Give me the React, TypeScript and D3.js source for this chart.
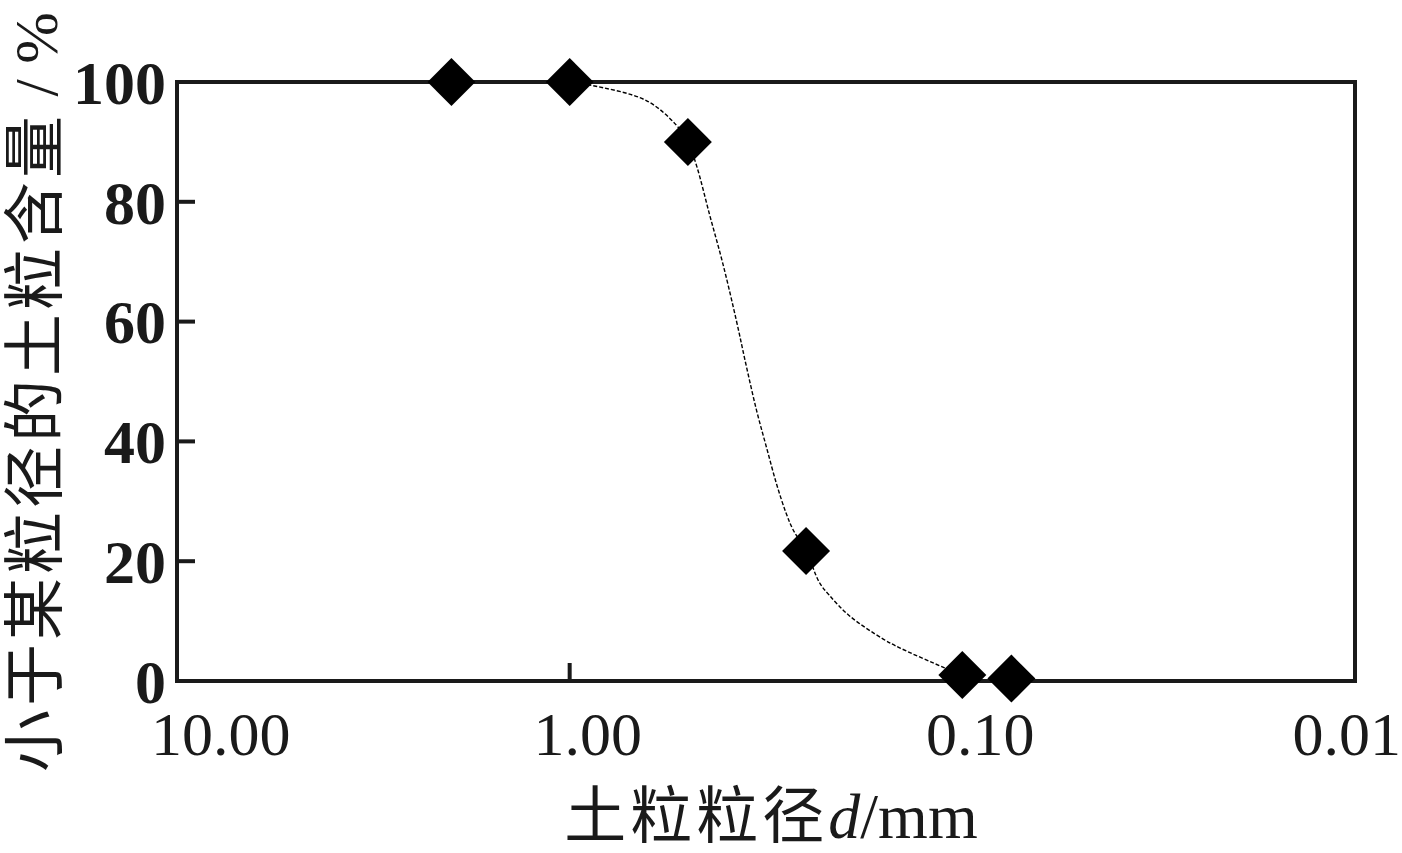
import React from "react";
import * as d3 from "d3";

// measured points: particle size (mm) vs. percent finer
const sizes = [2.0, 1.0, 0.5, 0.25, 0.1, 0.075];
const finer = [100, 100, 90, 21.7, 1.0, 0.4];

// fitted grading curve
const curveSizes = [1.0, 0.889, 0.638, 0.535, 0.5, 0.475, 0.44, 0.407, 0.376, 0.355, 0.334, 0.315, 0.297, 0.281, 0.27, 0.25, 0.231, 0.218, 0.194, 0.159, 0.144, 0.111, 0.1];
const curveFiner = [100, 99.5, 96.9, 92.8, 90, 86.0, 77.8, 69.6, 60.1, 52.6, 45.1, 38.9, 32.8, 28.0, 25.3, 21.7, 16.4, 14.3, 10.9, 7.0, 5.5, 2.2, 1.0];

const xTicks = [10, 1, 0.1, 0.01];
const xTickLabels = ["10.00", "1.00", "0.10", "0.01"];
const yTicks = [0, 20, 40, 60, 80, 100];

const xTitle = "土粒粒径";
const yTitle = "小于某粒径的土粒含量";

const W = 1402;
const H = 853;
const left = 177;
const right = 1355;
const top = 82;
const bottom = 681;

const serif = "'Liberation Serif', 'Times New Roman', serif";
const cjk = "'Noto Sans CJK SC', sans-serif";

export default function App() {
  const x = d3.scaleLog().domain([10, 0.01]).range([left, right]);
  const y = d3.scaleLinear().domain([0, 100]).range([bottom, top]);

  const line = d3
    .line<number>()
    .x((d, i) => x(curveSizes[i]))
    .y(d => y(d))
    .curve(d3.curveCatmullRom.alpha(0.5));

  const marker = d3.symbol().type(d3.symbolSquare).size(1150)();

  return (
    <svg width={W} height={H} style={{ position: "absolute", left: 0, top: 0, background: "#fff" }}>
      {/* inner ticks */}
      {yTicks
        .filter(t => t > 0 && t < 100)
        .map(t => (
          <line key={"yt" + t} x1={left} x2={left + 18} y1={y(t)} y2={y(t)} stroke="#1a1a1a" strokeWidth={4} />
        ))}
      {xTicks
        .filter(t => t < 10 && t > 0.01)
        .map(t => (
          <line key={"xt" + t} x1={x(t)} x2={x(t)} y1={bottom} y2={bottom - 18} stroke="#1a1a1a" strokeWidth={4} />
        ))}

      <path d={line(curveFiner) || ""} fill="none" stroke="#000" strokeWidth={1.4} strokeDasharray="4 2" />

      <rect x={left} y={top} width={right - left} height={bottom - top} fill="none" stroke="#1a1a1a" strokeWidth={4} />

      {sizes.map((s, i) => (
        <path key={"p" + i} d={marker || ""} transform={`translate(${x(s)},${y(finer[i])}) rotate(45)`} fill="#000" />
      ))}

      {/* y tick labels */}
      {yTicks.map(t => (
        <text
          key={"yl" + t}
          x={166}
          y={y(t)}
          dy="0.35em"
          textAnchor="end"
          fontFamily={serif}
          fontWeight="bold"
          fontSize={62}
          fill="#1a1a1a"
        >
          {t}
        </text>
      ))}

      {/* x tick labels */}
      {xTicks.map((t, i) => {
        const first = i === 0;
        const last = i === xTicks.length - 1;
        const anchor = first ? "start" : last ? "end" : "middle";
        const px = first ? x(t) - 26 : last ? W - 1 : x(t) + 18;
        return (
          <text key={"xl" + t} x={px} y={755} textAnchor={anchor} fontFamily={serif} fontSize={62} fill="#1a1a1a">
            {xTickLabels[i]}
          </text>
        );
      })}

      {/* x title */}
      <text x={771} y={838} textAnchor="middle" fill="#1a1a1a">
        <tspan fontFamily={cjk} fontSize={62} letterSpacing={4}>{xTitle}</tspan>
        <tspan fontFamily={serif} fontSize={64} fontStyle="italic">d</tspan>
        <tspan fontFamily={serif} fontSize={64}>/mm</tspan>
      </text>

      {/* y title */}
      <text transform={`translate(57,772) rotate(-90)`} textAnchor="start" fill="#1a1a1a">
        <tspan fontFamily={cjk} fontSize={62} letterSpacing={4}>{yTitle}</tspan>
        <tspan fontFamily={serif} fontSize={62}>{" / %"}</tspan>
      </text>
    </svg>
  );
}
